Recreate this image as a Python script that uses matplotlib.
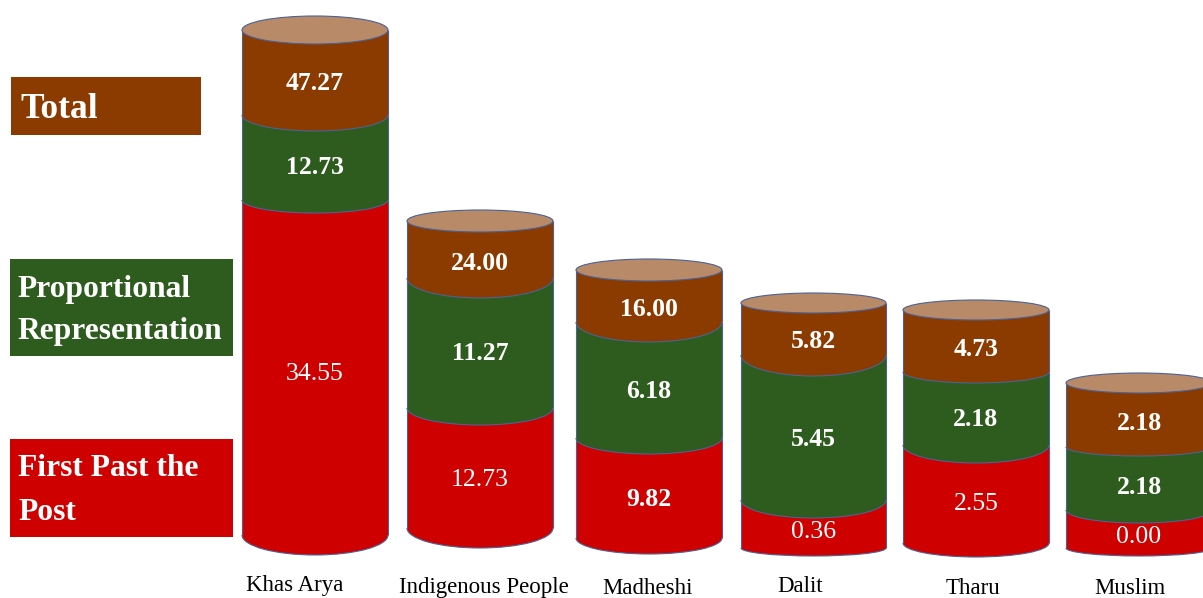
import matplotlib.pyplot as plt
from matplotlib.patches import Arc, Ellipse, Rectangle

plt.rcParams['font.family'] = ['Liberation Serif', 'DejaVu Serif']

# Values printed on the cylinders
groups = ['Khas Arya', 'Indigenous People', 'Madheshi', 'Dalit', 'Tharu', 'Muslim']
fptp = ['34.55', '12.73', '9.82', '0.36', '2.55', '0.00']
pr = ['12.73', '11.27', '6.18', '5.45', '2.18', '2.18']
total = ['47.27', '24.00', '16.00', '5.82', '4.73', '2.18']

# The bands are not to scale in the original, so drawn heights are read separately
fptp_height = [335, 120, 100, 48, 98, 38]
pr_height = [85, 130, 116, 145, 73, 63]
total_height = [85, 57, 52, 52, 62, 64]

BROWN = '#8B3A00'
GREEN = '#2E5B1E'
RED = '#CE0000'
TAN = '#B98A68'
EDGE = '#4A6296'
HEIGHT = 598

centers = [315, 480, 649, 813.5, 976, 1139]
bases = [63, 70, 60, 50, 55, 50]
widths = [146, 146, 146, 145, 146, 146]
bottom_depth = [20, 20, 16, 8, 14, 8]
fptp_depth = [13, 17, 16, 18, 18, 13]
pr_depth = [16, 20, 20, 21, 11, 9]
top_depth = [14, 11, 11, 10, 10, 10]
label_x = [295, 484, 647, 800, 973, 1130]
label_y = [586, 588, 588, 586, 588, 588]
fptp_y = [374, 480, 499, 532, 504, 537]
pr_y = [168, 354, 392, 440, 419, 487]
total_y = [84, 263, 309, 342, 349, 423]
fptp_bold = [False, False, True, False, False, False]

fig = plt.figure(figsize=(12.03, 5.98), dpi=100)
ax = fig.add_axes([0, 0, 1, 1])
ax.set_xlim(0, 1203)
ax.set_ylim(0, HEIGHT)
ax.axis('off')


def band(x, width, low, height, depth, color):
    # body of the band plus its curved lower edge
    ax.bar(x, height, width=width, bottom=low, color=color, linewidth=0, zorder=2)
    ax.add_patch(Ellipse((x, low), width, depth * 2, facecolor=color, edgecolor='none', zorder=2))
    ax.add_patch(Arc((x, low), width, depth * 2, theta1=180, theta2=360, color=EDGE, lw=0.8, zorder=2))
    ax.vlines([x - width / 2, x + width / 2], low, low + height, color=EDGE, lw=0.8, zorder=2)


for i in range(len(groups)):
    x = centers[i]
    w = widths[i]
    b1 = bases[i]
    b2 = b1 + fptp_height[i]
    b3 = b2 + pr_height[i]
    top = b3 + total_height[i]

    band(x, w, b1, fptp_height[i], bottom_depth[i], RED)
    band(x, w, b2, pr_height[i], fptp_depth[i], GREEN)
    band(x, w, b3, total_height[i], pr_depth[i], BROWN)
    ax.add_patch(Ellipse((x, top), w, top_depth[i] * 2, facecolor=TAN, edgecolor=EDGE, lw=0.8, zorder=2))

    ax.text(x, HEIGHT - fptp_y[i], fptp[i], color='white', fontsize=18.5, ha='center', va='center',
            fontweight='bold' if fptp_bold[i] else 'normal', zorder=3)
    ax.text(x, HEIGHT - pr_y[i], pr[i], color='white', fontsize=18.5, fontweight='bold',
            ha='center', va='center', zorder=3)
    ax.text(x, HEIGHT - total_y[i], total[i], color='white', fontsize=18.5, fontweight='bold',
            ha='center', va='center', zorder=3)
    ax.text(label_x[i], HEIGHT - label_y[i], groups[i], color='black', fontsize=16.5,
            ha='center', va='center', zorder=3)

# Legend boxes
ax.add_patch(Rectangle((11, HEIGHT - 135), 190, 58, facecolor=BROWN, edgecolor='none'))
ax.text(20, HEIGHT - 109, 'Total', color='white', fontsize=25.5, fontweight='bold', va='center')

ax.add_patch(Rectangle((10, HEIGHT - 356), 223, 97, facecolor=GREEN, edgecolor='none'))
ax.text(17, HEIGHT - 289, 'Proportional', color='white', fontsize=22.7, fontweight='bold', va='center')
ax.text(17, HEIGHT - 332, 'Representation', color='white', fontsize=22.7, fontweight='bold', va='center')

ax.add_patch(Rectangle((10, HEIGHT - 537), 223, 98, facecolor=RED, edgecolor='none'))
ax.text(18, HEIGHT - 469, 'First Past the', color='white', fontsize=22.7, fontweight='bold', va='center')
ax.text(18, HEIGHT - 512, 'Post', color='white', fontsize=22.7, fontweight='bold', va='center')

fig.savefig('out.png', dpi=100)
